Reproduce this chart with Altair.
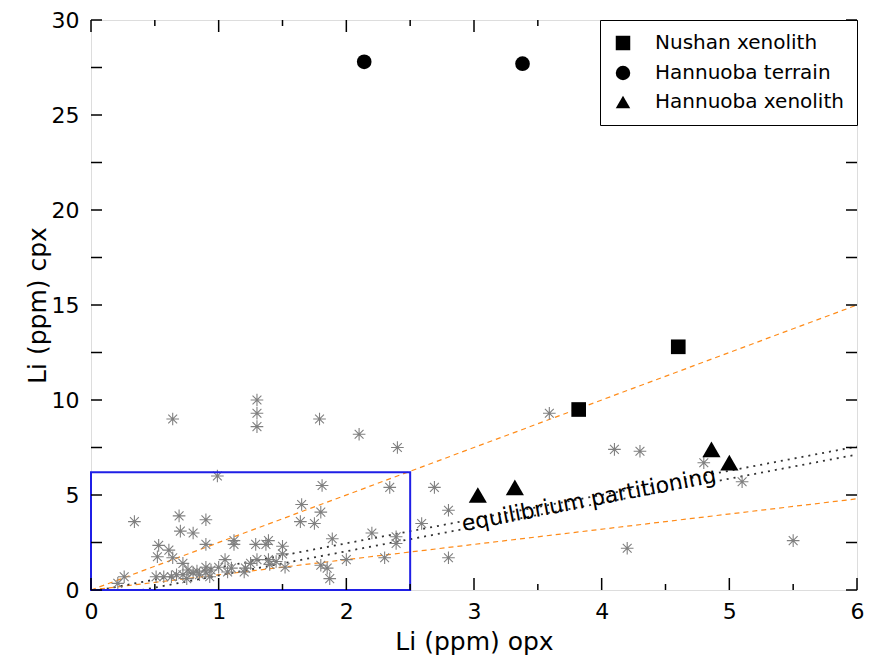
import altair as alt
import pandas as pd

# ---------------- data ----------------
star_x = [0.64, 1.30, 1.30, 1.30, 1.79, 2.10, 2.40, 0.99, 1.81, 2.34,
          3.59, 4.10, 4.30, 4.80, 5.10, 2.69, 2.80, 2.59, 2.80, 4.20,
          5.50, 1.80, 1.75, 1.89, 2.20, 2.39, 2.39, 2.00, 2.30, 1.80,
          1.85, 1.87, 0.90, 1.65, 1.64, 0.90, 1.12, 1.12, 1.29, 1.39,
          1.37, 1.50, 1.50, 1.05, 1.39, 1.30, 1.25, 1.21, 1.52, 1.10,
          1.07, 0.94, 0.90, 0.93, 1.20, 0.34, 0.69, 0.70, 0.80, 0.53,
          0.52, 0.61, 0.64, 0.72, 0.26, 0.21, 0.51, 0.57, 0.63, 0.67,
          0.72, 0.76, 0.80, 0.85, 0.75, 1.00, 1.40, 1.45, 0.83, 0.90]
star_y = [9.0, 10.0, 9.3, 8.6, 9.0, 8.2, 7.5, 6.0, 5.5, 5.4,
          9.3, 7.4, 7.3, 6.7, 5.7, 5.4, 4.2, 3.5, 1.7, 2.2,
          2.6, 4.1, 3.5, 2.7, 3.0, 2.8, 2.45, 1.6, 1.7, 1.3,
          1.15, 0.6, 3.7, 4.5, 3.6, 2.4, 2.6, 2.4, 2.4, 2.6,
          2.4, 2.3, 1.9, 1.6, 1.6, 1.6, 1.4, 1.15, 1.2, 1.15,
          0.95, 1.05, 0.95, 0.7, 0.95, 3.6, 3.9, 3.1, 3.0, 2.35,
          1.75, 2.1, 1.7, 1.4, 0.7, 0.35, 0.7, 0.7, 0.7, 0.8,
          0.8, 1.05, 0.9, 0.8, 0.6, 1.2, 1.35, 1.5, 1.0, 1.2]

nushan_x = [3.82, 4.60]
nushan_y = [9.5, 12.8]
terrain_x = [2.14, 3.38]
terrain_y = [27.8, 27.7]
hxeno_x = [3.03, 3.32, 4.86, 5.00]
hxeno_y = [5.0, 5.4, 7.4, 6.7]
groups = ["Nushan xenolith", "Hannuoba terrain", "Hannuoba xenolith"]

# reference lines
orange_names = ["upper", "lower"]
orange_x = [[0, 6], [0, 6]]
orange_y = [[0, 15.0], [0, 4.8]]
eq_names = ["eq1", "eq2"]
eq_x = [[0.07, 6], [0.40, 6]]
eq_y = [[0, 7.55], [0, 7.13]]

box_x, box_x2, box_y, box_y2 = [0], [2.5], [0], [6.2]

label_text = ["equilibrium partitioning"]
label_x = [3.9]
label_y = [4.75]

x_major = [0, 1, 2, 3, 4, 5, 6]
x_minor = [0.5, 1.5, 2.5, 3.5, 4.5, 5.5]
y_ticks = [0, 2.5, 5, 7.5, 10, 12.5, 15, 17.5, 20, 22.5, 25, 27.5, 30]

W, H = 766, 570
FONT = "DejaVu Sans"

# ---------------- frames ----------------
stars = pd.DataFrame({"x": star_x, "y": star_y})
pts = pd.DataFrame({
    "x": nushan_x + terrain_x + hxeno_x,
    "y": nushan_y + terrain_y + hxeno_y,
    "g": [groups[0]] * len(nushan_x) + [groups[1]] * len(terrain_x) + [groups[2]] * len(hxeno_x),
})
orange = pd.DataFrame([{"n": n, "x": xv, "y": yv}
                       for n, xs, ys in zip(orange_names, orange_x, orange_y)
                       for xv, yv in zip(xs, ys)])
eq = pd.DataFrame([{"n": n, "x": xv, "y": yv}
                   for n, xs, ys in zip(eq_names, eq_x, eq_y)
                   for xv, yv in zip(xs, ys)])
box = pd.DataFrame({"x": box_x, "x2": box_x2, "y": box_y, "y2": box_y2})
lab = pd.DataFrame({"t": label_text, "x": label_x, "y": label_y})

xsc = alt.Scale(domain=[0, 6], nice=False, zero=False)
ysc = alt.Scale(domain=[0, 30], nice=False, zero=False)

X = alt.X("x:Q", scale=xsc, title="Li (ppm) opx",
          axis=alt.Axis(values=x_major, format="d", ticks=False, domain=False, grid=False,
                        labelFlush=False, labelFontSize=22, labelPadding=11, labelFont=FONT,
                        titleFontSize=25, titleFont=FONT, titleFontWeight="normal",
                        titlePadding=7, labelColor="black", titleColor="black"))
Y = alt.Y("y:Q", scale=ysc, title="Li (ppm) cpx",
          axis=alt.Axis(values=[0, 5, 10, 15, 20, 25, 30], format="d", ticks=False, domain=False,
                        grid=False, labelFlush=False, labelFontSize=22, labelPadding=12,
                        labelFont=FONT, titleFontSize=25, titleFont=FONT,
                        titleFontWeight="normal", titlePadding=1,
                        labelColor="black", titleColor="black"))

base_x = alt.X("x:Q", scale=xsc)
base_y = alt.Y("y:Q", scale=ysc)

orange_layer = alt.Chart(orange).mark_line(
    color="#ff8c1a", strokeDash=[5, 4], strokeWidth=1.2
).encode(x=X, y=Y, detail="n:N")

eq_layer = alt.Chart(eq).mark_line(
    color="#333333", strokeDash=[2, 5], strokeWidth=1.8
).encode(x=base_x, y=base_y, detail="n:N")

star_path = "M0,-1L0,1M-1,0L1,0M-0.7,-0.7L0.7,0.7M-0.7,0.7L0.7,-0.7"
star_layer = alt.Chart(stars).mark_point(
    shape=star_path, filled=False, color="#808080", size=160, strokeWidth=1.1, opacity=1
).encode(x=base_x, y=base_y)

box_layer = alt.Chart(box).mark_rect(
    filled=False, stroke="#1f1fe6", strokeWidth=2
).encode(x=alt.X("x:Q", scale=xsc), x2="x2:Q", y=alt.Y("y:Q", scale=ysc), y2="y2:Q")

shape_scale = alt.Scale(domain=groups, range=["square", "circle", "triangle-up"])

pts_layer = alt.Chart(pts).transform_filter(
    alt.datum.g != groups[2]
).mark_point(filled=True, opacity=1, size=215, color="black").encode(
    x=base_x, y=base_y,
    shape=alt.Shape("g:N", scale=shape_scale,
                    legend=alt.Legend(title=None, orient="top-right", offset=0,
                                      labelFontSize=20, labelFont=FONT, labelColor="black",
                                      labelLimit=0,
                                      symbolSize=210, symbolFillColor="black", symbolStrokeColor="black",
                                      labelOffset=22, rowPadding=8,
                                      padding=13, strokeColor="black", fillColor="white")),
)

tri_layer = alt.Chart(pts).transform_filter(
    alt.datum.g == groups[2]
).mark_point(filled=True, opacity=1, size=330, color="black").encode(
    x=base_x, y=base_y,
    shape=alt.Shape("g:N", scale=shape_scale),
)

text_layer = alt.Chart(lab).mark_text(
    angle=349, fontSize=22, font=FONT, color="black"
).encode(x=base_x, y=base_y, text="t:N")

# inward tick marks on all four sides
xmaj = pd.DataFrame({"x": x_major})
xmin = pd.DataFrame({"x": x_minor})
yt = pd.DataFrame({"y": y_ticks})
tick_style = dict(color="black", strokeWidth=1.5)
ticks = [
    alt.Chart(xmaj).mark_rule(**tick_style).encode(x=base_x, y=alt.value(H), y2=alt.value(H - 12)),
    alt.Chart(xmaj).mark_rule(**tick_style).encode(x=base_x, y=alt.value(0), y2=alt.value(12)),
    alt.Chart(xmin).mark_rule(**tick_style).encode(x=base_x, y=alt.value(H), y2=alt.value(H - 6)),
    alt.Chart(xmin).mark_rule(**tick_style).encode(x=base_x, y=alt.value(0), y2=alt.value(6)),
    alt.Chart(yt).mark_rule(**tick_style).encode(y=base_y, x=alt.value(0), x2=alt.value(11)),
    alt.Chart(yt).mark_rule(**tick_style).encode(y=base_y, x=alt.value(W), x2=alt.value(W - 11)),
]

chart = alt.layer(
    orange_layer, eq_layer, star_layer, box_layer, pts_layer, tri_layer, text_layer, *ticks
).properties(
    width=W, height=H,
    autosize=alt.AutoSizeParams(type="none"),
    padding={"left": 83, "top": 12, "right": 7, "bottom": 70},
).configure_view(
    stroke="black", strokeWidth=1.5
).configure(background="white")

chart.save("out.html", embed_options={"renderer": "svg", "actions": False})
